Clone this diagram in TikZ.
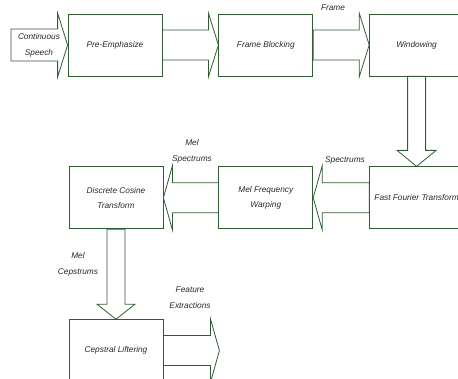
\documentclass[tikz,border=0pt]{standalone}
\usepackage{fontspec}
\setmainfont{Liberation Sans}
\usetikzlibrary{positioning,calc}

\definecolor{boxgreen}{RGB}{50,92,50}
\definecolor{txtgray}{RGB}{40,40,40}

\tikzset{
  stage/.style={draw=boxgreen,line width=0.8pt,minimum width=94pt,minimum height=62pt,
    align=center,inner sep=2pt,text=txtgray,font=\fontsize{8.3}{14.5}\selectfont\itshape},
  lbl/.style={align=center,inner sep=1pt,text=txtgray,font=\fontsize{8.3}{16}\selectfont\itshape},
  flow/.style={draw=boxgreen,line width=0.8pt,line join=miter}
}

% block arrow: from, to, half shaft, half head, head length
\newcommand{\blockarr}[5]{%
  \coordinate (ba-s) at (#1);
  \coordinate (ba-t) at (#2);
  \coordinate (ba-h) at ($(ba-t)!#5!(ba-s)$);
  \draw[flow] ($(ba-s)!#3!90:(ba-t)$) -- ($(ba-h)!#3!90:(ba-t)$) -- ($(ba-h)!#4!90:(ba-t)$)
    -- (ba-t) -- ($(ba-h)!#4!-90:(ba-t)$) -- ($(ba-h)!#3!-90:(ba-t)$) -- ($(ba-s)!#3!-90:(ba-t)$) -- cycle;}

\begin{document}
\begin{tikzpicture}[x=1pt,y=-1pt]
  \useasboundingbox (0,0) rectangle (458,379);
  \clip (0,0) rectangle (458,379);

  \node[stage] (pre) at (115,45) {Pre-Emphasize};
  \node[stage,right=56pt of pre] (frame) {Frame Blocking};
  \node[stage,right=56pt of frame] (win) {Windowing};
  \node[stage,below=90pt of win] (fft) {Fast Fourier Transform};
  \node[stage,left=56pt of fft] (mfw) {Mel Frequency\\Warping};
  \node[stage,left=55pt of mfw] (dct) {Discrete Cosine\\Transform};
  \node[stage,below=90pt of dct] (cl) {Cepstral Liftering};

  \coordinate (src) at (11,45);
  \coordinate (out) at ([xshift=56pt]cl.east);

  \blockarr{src}{pre.west}{16pt}{32pt}{10pt}
  \foreach \a/\b in {pre/frame,frame/win}
    {\blockarr{\a.east}{\b.west}{15pt}{32pt}{10pt}}
  \blockarr{win.south}{fft.north}{9pt}{19.5pt}{16pt}
  \foreach \a/\b in {fft/mfw,mfw/dct}
    {\blockarr{\a.west}{\b.east}{15pt}{32pt}{9pt}}
  \blockarr{dct.south}{cl.north}{9pt}{19pt}{15pt}
  \blockarr{cl.east}{out}{15pt}{32pt}{9pt}

  \node[lbl] (speech) at (39,45) {Continuous\\Speech};
  \node[lbl] (lframe) at (333,8) {Frame};
  \node[lbl] (lspec) at (345,160) {Spectrums};
  \node[lbl] (lmelspec) at (192,151) {Mel\\Spectrums};
  \node[lbl] (lmelcep) at (78,264) {Mel\\Cepstrums};
  \node[lbl] (lfeat) at (190,298) {Feature\\Extractions};
\end{tikzpicture}
\end{document}
